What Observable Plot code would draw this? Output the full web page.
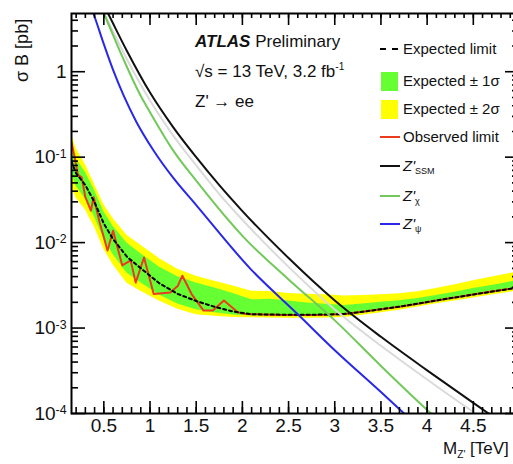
<!DOCTYPE html>
<html><head><meta charset="utf-8">
<script src="https://cdn.jsdelivr.net/npm/d3@7"></script>
<script src="https://cdn.jsdelivr.net/npm/@observablehq/plot@0.6"></script>
<style>
html,body{margin:0;padding:0;background:#fff;overflow:hidden;}
#wrap{position:relative;width:513px;height:464px;overflow:hidden;font-family:"Liberation Sans",Arial,sans-serif;color:#111;}
#wrap svg{display:block;max-width:none;}
.ov{position:absolute;white-space:nowrap;line-height:1;}
.lg{position:absolute;white-space:nowrap;line-height:1;font-size:15px;}
.sym{position:absolute;}
sub.s{font-size:0.6em;vertical-align:-0.35em;}
</style></head><body><div id="wrap"></div>
<script>
// ---------- data ----------
const massGrid = [0.15,0.2,0.3,0.4,0.5,0.6,0.75,0.9,1.1,1.3,1.5,1.7,1.9,2.1,2.3,2.5,2.7,2.9,3.1,3.3,3.5,3.7,3.9,4.1,4.3,4.5,4.7,4.9,5.0];
const expected = [0.0891,0.0646,0.0471,0.0295,0.0167,0.0110,0.00684,0.00501,0.00335,0.00251,0.00207,0.00177,0.00156,0.00145,0.00144,0.00143,0.00143,0.00144,0.00146,0.00155,0.00166,0.00178,0.00193,0.00210,0.00228,0.00247,0.00267,0.00288,0.00302];
const plus2 = [0.190,0.126,0.0819,0.0478,0.0277,0.0191,0.01216,0.00933,0.00653,0.00489,0.00404,0.00353,0.00311,0.00270,0.00268,0.00254,0.00249,0.00245,0.00237,0.00240,0.00246,0.00252,0.00266,0.00290,0.00322,0.00357,0.00395,0.00436,0.00457];
const plus1 = [0.138,0.0950,0.0666,0.0407,0.0230,0.0155,0.00988,0.00741,0.00519,0.00398,0.00336,0.00294,0.00253,0.00214,0.00218,0.00207,0.00197,0.00190,0.00184,0.00191,0.00200,0.00209,0.00222,0.00241,0.00262,0.00290,0.00314,0.00346,0.00363];
const minus1 = [0.0645,0.0457,0.0326,0.0199,0.0110,0.00727,0.00442,0.00339,0.00243,0.00191,0.00164,0.00151,0.00142,0.00138,0.00138,0.00137,0.00137,0.00138,0.00139,0.00148,0.00159,0.00170,0.00184,0.00201,0.00218,0.00236,0.00255,0.00275,0.00288];
const minus2 = [0.0457,0.0331,0.0242,0.0151,0.00837,0.00551,0.00335,0.00269,0.00207,0.00166,0.00143,0.00137,0.00133,0.00132,0.00131,0.00130,0.00130,0.00131,0.00133,0.00141,0.00151,0.00162,0.00176,0.00192,0.00208,0.00225,0.00244,0.00263,0.00275];

const obsMass = [0.15,0.18,0.22,0.26,0.30,0.36,0.39,0.45,0.54,0.60,0.70,0.79,0.845,0.935,1.04,1.22,1.30,1.35,1.45,1.58,1.68,1.80,1.95,2.02,2.1,2.3,2.5,2.7,2.9,3.1,3.3,3.5,3.7,3.9,4.1,4.3,4.5,4.7,4.9,5.0];
const observed = [0.15,0.105,0.062,0.058,0.034,0.0236,0.034,0.018,0.0081,0.0138,0.0054,0.0062,0.0034,0.0067,0.0025,0.0026,0.0031,0.0041,0.0025,0.0016,0.0016,0.0021,0.00153,0.00147,0.00145,0.00143,0.00142,0.00142,0.00143,0.00146,0.00155,0.00166,0.00178,0.00193,0.0021,0.00228,0.00247,0.00267,0.00288,0.00302];

const ssmMass = [0.5,0.55,0.75,1.0,1.25,1.5,1.75,2.0,2.5,3.0,3.5,4.0,4.5,5.0];
const ssmXsec = [6.0,4.7,1.75,0.57,0.225,0.10,0.047,0.0234,0.0066,0.0021,0.00079,0.00032,0.000133,0.000056];
const grayXsec = [4.9,3.8,1.4,0.46,0.18,0.08,0.037,0.0185,0.0052,0.00165,0.00062,0.00025,0.000104,0.000044];
const chiMass = [0.45,0.5,0.7,0.9,1.0,1.25,1.5,2.0,2.5,3.0,3.5,4.0,4.5];
const chiXsec = [6.3,4.8,1.5,0.52,0.336,0.12,0.053,0.012,0.0037,0.00123,0.00036,0.00011,0.000036];
const psiMass = [0.35,0.4,0.5,0.6,0.72,0.85,1.04,1.25,1.5,2.09,2.6,3.0,3.5,3.75,4.0];
const psiXsec = [6.2,4.4,2.1,1.05,0.51,0.262,0.119,0.0575,0.0275,0.0049,0.00145,0.00055,0.000178,0.0001,0.000056];

const xMajor = [0.5,1,1.5,2,2.5,3,3.5,4,4.5];
const xTickLabels = ["0.5","1","1.5","2","2.5","3","3.5","4","4.5"];
const yMajor = [1e-4,1e-3,1e-2,1e-1,1];
const yTickLabels = ["10^-4","10^-3","10^-2","10^-1","1"];

// ---------- build ----------
const W = 513, H = 464, mL = 71, mR = -6, mT = 13, mB = 51;
const innerW = W - mR - mL, innerH = H - mT - mB;
const band = massGrid.map((m,i)=>({m, e:expected[i], p2:plus2[i], p1:plus1[i], m1:minus1[i], m2:minus2[i]}));
const obs = obsMass.map((m,i)=>({m, v:observed[i]}));
const ssm = ssmMass.map((m,i)=>({m, v:ssmXsec[i]}));
const gry = ssmMass.map((m,i)=>({m, v:grayXsec[i]}));
const chi = chiMass.map((m,i)=>({m, v:chiXsec[i]}));
const psi = psiMass.map((m,i)=>({m, v:psiXsec[i]}));
const xMinor = d3.range(2, 50).map(k => k/10);
const yMinor = [];
for (const b of yMajor) for (let k = 2; k <= 9; k++) if (b*k <= 4.8) yMinor.push(b*k);

const tk = {stroke:"#000", strokeWidth:1.6};
const plot = Plot.plot({
  width: W, height: H,
  marginLeft: mL, marginRight: mR, marginTop: mT, marginBottom: mB,
  style: {fontFamily:"'Liberation Sans Narrow','Liberation Sans',Arial,sans-serif", fontSize:"19px", color:"#111", background:"white"},
  x: {domain:[0.15,5.0], ticks:xMajor, tickFormat:d=>xTickLabels[xMajor.indexOf(d)], tickSize:0, tickPadding:5, label:null},
  y: {type:"log", domain:[1e-4,4.8], ticks:yMajor, tickFormat:d=>yTickLabels[yMajor.indexOf(d)], tickSize:0, tickPadding:5, label:null},
  marks: [
    Plot.areaY(band, {x:"m", y1:"m2", y2:"p2", fill:"#ffff00", clip:true}),
    Plot.areaY(band, {x:"m", y1:"m1", y2:"p1", fill:"#66ff33", clip:true}),
    Plot.line(obs, {x:"m", y:"v", stroke:"#ec3a1e", strokeWidth:2, clip:true}),
    Plot.line(band, {x:"m", y:"e", stroke:"#000", strokeWidth:2, strokeDasharray:"3,3", clip:true}),
    Plot.line(gry, {x:"m", y:"v", stroke:"#dadada", strokeWidth:2, curve:"monotone-x", clip:true}),
    Plot.line(chi, {x:"m", y:"v", stroke:"#72c85a", strokeWidth:2, curve:"monotone-x", clip:true}),
    Plot.line(psi, {x:"m", y:"v", stroke:"#2828e6", strokeWidth:2, curve:"monotone-x", clip:true}),
    Plot.line(ssm, {x:"m", y:"v", stroke:"#111", strokeWidth:2, curve:"monotone-x", clip:true}),
    Plot.tickX(xMinor, {x:d=>d, insetTop:innerH-6, ...tk}),
    Plot.tickX(xMajor, {x:d=>d, insetTop:innerH-12, ...tk}),
    Plot.tickX(xMinor, {x:d=>d, insetBottom:innerH-5, ...tk}),
    Plot.tickX(xMajor, {x:d=>d, insetBottom:innerH-12, ...tk}),
    Plot.tickY(yMinor, {y:d=>d, insetRight:innerW-7, ...tk}),
    Plot.tickY(yMajor, {y:d=>d, insetRight:innerW-14, ...tk}),
    Plot.tickY(yMinor, {y:d=>d, insetLeft:innerW-7, ...tk}),
    Plot.tickY(yMajor, {y:d=>d, insetLeft:innerW-14, ...tk}),
    Plot.frame({stroke:"#000", strokeWidth:2})
  ]
});
const wrap = document.getElementById("wrap");
wrap.appendChild(plot);

// superscripts in y tick labels
plot.querySelectorAll("text").forEach(t => {
  const m = /^10\^(-?\d+)$/.exec(t.textContent);
  if (m) {
    t.textContent = "10";
    const s = document.createElementNS("http://www.w3.org/2000/svg","tspan");
    s.setAttribute("dy","-0.45em");
    s.setAttribute("font-size","0.65em");
    s.textContent = m[1];
    t.appendChild(s);
  }
});

// ---------- annotations ----------
function ov(html, css){ const d=document.createElement("div"); d.className="ov"; d.innerHTML=html; d.style.cssText+=css; wrap.appendChild(d); return d; }
ov('<b><i>ATLAS</i></b> Preliminary', 'left:195px;top:33px;font-size:17px;');
ov('√s = 13 TeV, 3.2 fb<sup style="font-size:0.6em">-1</sup>', 'left:195px;top:62px;font-size:17px;');
ov("Z' → ee", 'left:195px;top:93px;font-size:17px;');
ov("M<sub class='s'>Z'</sub> [TeV]", 'left:443px;top:440px;font-size:17px;');
ov('σ B [pb]', 'left:13px;top:82px;font-size:18px;transform-origin:0 0;transform:rotate(-90deg);');

const legendLabels = ["Expected limit","Expected ± 1σ","Expected ± 2σ","Observed limit","<i>Z'</i><sub class='s'>SSM</sub>","<i>Z'</i><sub class='s'>χ</sub>","<i>Z'</i><sub class='s'>ψ</sub>"];
const legendRows = [49,81,109,137,166,196,224];
const legendSym = [
  'left:380px;width:18px;height:0;border-top:2px dashed #000;',
  'left:381px;width:17px;height:19px;background:#66ff33;',
  'left:381px;width:17px;height:19px;background:#ffff00;',
  'left:380px;width:20px;height:2px;background:#ec3a1e;',
  'left:380px;width:20px;height:2px;background:#111;',
  'left:380px;width:20px;height:2px;background:#72c85a;',
  'left:380px;width:20px;height:2px;background:#2828e6;'
];
legendLabels.forEach((lab,i)=>{
  const c = legendRows[i];
  const s = document.createElement("div"); s.className="sym";
  const h = (i===1||i===2) ? 19 : 2;
  s.style.cssText = legendSym[i] + `top:${c - h/2}px;`;
  wrap.appendChild(s);
  const d = document.createElement("div"); d.className="lg"; d.innerHTML = lab;
  d.style.cssText = `left:403px;top:${c-8}px;`;
  wrap.appendChild(d);
});
</script></body></html>
